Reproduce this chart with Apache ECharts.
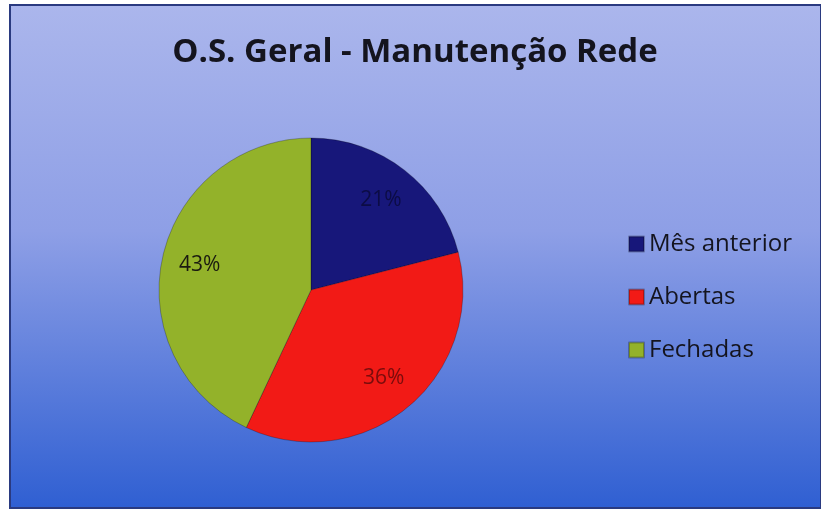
<!DOCTYPE html>
<html>
<head>
<meta charset="utf-8">
<script src="https://cdn.jsdelivr.net/npm/echarts@6/dist/echarts.min.js"></script>
<style>
  html, body { margin: 0; padding: 0; background: #fff; }
  #chart { width: 821px; height: 510px; }
</style>
</head>
<body>
<div id="chart"></div>
<script>
var categories = ['Mês anterior', 'Abertas', 'Fechadas'];
var values = [21, 36, 43];
var colors = ['#17177a', '#f21a16', '#93b22a'];
var labelColors = ['#0c0c45', '#7a0c0c', '#1a1a10'];

var chart = echarts.init(document.getElementById('chart'));

var pieData = [];
var labelData = [];
for (var i = 0; i < categories.length; i++) {
    pieData.push({ name: categories[i], value: values[i], itemStyle: { color: colors[i] } });
    labelData.push({ name: categories[i], value: values[i], label: { color: labelColors[i] } });
}

chart.setOption({
    backgroundColor: '#ffffff',
    graphic: [
        {
            type: 'rect',
            z: -10,
            shape: { x: 10, y: 5, width: 811, height: 503 },
            style: {
                fill: new echarts.graphic.LinearGradient(0, 0, 0, 1, [
                    { offset: 0, color: '#abb6ec' },
                    { offset: 0.45, color: '#8e9fe6' },
                    { offset: 1, color: '#2f5fd2' }
                ]),
                stroke: '#2a3a80',
                lineWidth: 2
            }
        }
    ],
    title: {
        text: 'O.S. Geral - Manutenção Rede',
        left: 410,
        textAlign: 'center',
        top: 31,
        textStyle: {
            fontFamily: 'Open Sans',
            fontSize: 33,
            fontWeight: 'bold',
            color: '#14141e'
        }
    },
    legend: {
        orient: 'vertical',
        left: 623,
        top: 227,
        itemWidth: 15,
        itemHeight: 15,
        itemGap: 29,
        icon: 'rect',
        data: categories,
        textStyle: {
            fontFamily: 'Open Sans',
            fontSize: 24,
            color: '#14141e'
        }
    },
    series: [
        {
            name: 'O.S.',
            type: 'pie',
            center: [311, 290],
            radius: [0, 152],
            startAngle: 90,
            clockwise: true,
            label: { show: false },
            labelLine: { show: false },
            silent: true,
            itemStyle: { borderColor: 'rgba(0,0,0,0.25)', borderWidth: 1 },
            data: pieData
        },
        {
            name: 'rótulos',
            type: 'pie',
            center: [311, 290],
            radius: [72, 150],
            startAngle: 90,
            clockwise: true,
            silent: true,
            legendHoverLink: false,
            itemStyle: { color: 'rgba(0,0,0,0)' },
            label: {
                show: true,
                position: 'inside',
                formatter: '{d}%',
                fontFamily: 'Open Sans',
                fontSize: 21,
                textBorderWidth: 0
            },
            data: labelData
        }
    ]
});
</script>
</body>
</html>
